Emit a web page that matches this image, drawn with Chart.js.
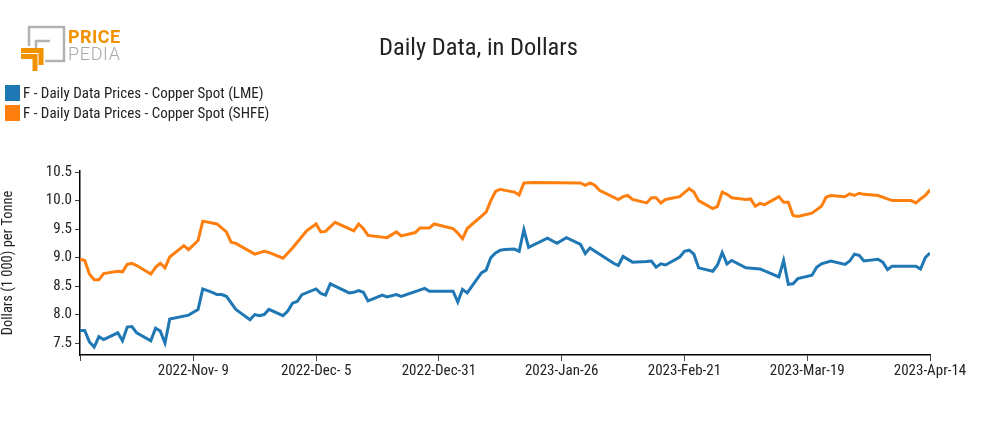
<!DOCTYPE html>
<html>
<head>
<meta charset="utf-8">
<script src="https://cdn.jsdelivr.net/npm/chart.js@4"></script>
<style>
  body { margin: 0; background: #fff; }
  #wrap { position: relative; width: 985px; height: 430px; font-family: 'Roboto Condensed', 'Liberation Sans Narrow', 'DejaVu Sans Condensed', Roboto, sans-serif; color: #222; }
  #chart { position: absolute; left: 0; top: 0; }
  #title { position: absolute; left: 0; width: 957px; top: 32px; text-align: center; font-size: 24.5px; }
  .leg { position: absolute; left: 5px; font-size: 15px; white-space: nowrap; }
  .leg span { display: inline-block; width: 15px; height: 16px; vertical-align: -3px; margin-right: 3px; }
  #logo { position: absolute; left: 0; top: 0; }
</style>
</head>
<body>
<div id="wrap">
  <canvas id="chart" width="985" height="430"></canvas>
  <svg id="logo" width="140" height="80">
    <polyline points="29,46 29,27 64,27 64,61 45,61" fill="none" stroke="#b3b3b3" stroke-width="2.5"/>
    <polyline points="36,50 36,41 50,41" fill="none" stroke="#b3b3b3" stroke-width="2.5"/>
    <polyline points="21,50.5 41,50.5 41,65" fill="none" stroke="#f39200" stroke-width="5"/>
    <polyline points="21,56.5 35,56.5 35,71" fill="none" stroke="#f39200" stroke-width="5"/>
    <text x="68" y="43" font-family="Roboto, sans-serif" font-weight="bold" font-size="18" fill="#f39200" textLength="52">PRICE</text>
    <text x="68" y="60" font-family="Roboto, sans-serif" font-weight="300" font-size="18" fill="#a8a8a8" textLength="52">PEDIA</text>
  </svg>
  <div id="title">Daily Data, in Dollars</div>
  <div class="leg" style="top:84px"><span style="background:#1f77b4"></span>F - Daily Data Prices - Copper Spot (LME)</div>
  <div class="leg" style="top:104px"><span style="background:#ff7f0e"></span>F - Daily Data Prices - Copper Spot (SHFE)</div>
</div>
<script>
// data
var startDate = '2022-10-16';
var tickDates = ['2022-11-09', '2022-12-05', '2022-12-31', '2023-01-26', '2023-02-21', '2023-03-19', '2023-04-14'];
var tickLabels = ['2022-Nov- 9', '2022-Dec- 5', '2022-Dec-31', '2023-Jan-26', '2023-Feb-21', '2023-Mar-19', '2023-Apr-14'];
var yTicks = [7.5, 8.0, 8.5, 9.0, 9.5, 10.0, 10.5];

var lmeDates = ['2022-10-16','2022-10-17','2022-10-18','2022-10-19','2022-10-20','2022-10-21','2022-10-24','2022-10-25','2022-10-26','2022-10-27','2022-10-28','2022-10-31',
  '2022-11-01','2022-11-02','2022-11-03','2022-11-04','2022-11-08','2022-11-09','2022-11-10','2022-11-11','2022-11-13','2022-11-14','2022-11-15','2022-11-16','2022-11-18','2022-11-19','2022-11-21','2022-11-22','2022-11-23','2022-11-24','2022-11-25','2022-11-28','2022-11-29','2022-11-30',
  '2022-12-01','2022-12-02','2022-12-05','2022-12-06','2022-12-07','2022-12-08','2022-12-12','2022-12-13','2022-12-14','2022-12-15','2022-12-16','2022-12-19','2022-12-20','2022-12-22','2022-12-23','2022-12-28','2022-12-29',
  '2023-01-03','2023-01-04','2023-01-05','2023-01-06','2023-01-09','2023-01-10','2023-01-11','2023-01-12','2023-01-13','2023-01-14','2023-01-16','2023-01-17','2023-01-18','2023-01-19','2023-01-23','2023-01-25','2023-01-27','2023-01-30','2023-01-31',
  '2023-02-01','2023-02-06','2023-02-07','2023-02-08','2023-02-10','2023-02-13','2023-02-14','2023-02-15','2023-02-16','2023-02-17','2023-02-20','2023-02-21','2023-02-22','2023-02-23','2023-02-24','2023-02-27','2023-02-28',
  '2023-03-01','2023-03-02','2023-03-03','2023-03-06','2023-03-09','2023-03-13','2023-03-14','2023-03-15','2023-03-16','2023-03-17','2023-03-20','2023-03-21','2023-03-22','2023-03-24','2023-03-27','2023-03-28','2023-03-29','2023-03-30','2023-03-31',
  '2023-04-03','2023-04-04','2023-04-05','2023-04-06','2023-04-11','2023-04-12','2023-04-13','2023-04-14'];
var lmeValues = [7.72,7.72,7.52,7.43,7.61,7.56,7.68,7.54,7.78,7.79,7.68,7.54,
  7.76,7.71,7.50,7.92,7.99,8.04,8.09,8.45,8.39,8.35,8.35,8.32,8.09,8.03,7.91,8.00,7.98,8.00,8.09,7.98,8.06,8.20,
  8.23,8.35,8.45,8.37,8.34,8.54,8.38,8.39,8.42,8.39,8.24,8.34,8.31,8.35,8.32,8.46,8.41,
  8.41,8.22,8.44,8.38,8.73,8.78,9.00,9.08,9.13,9.14,9.15,9.11,9.49,9.18,9.34,9.25,9.35,9.23,9.07,
  9.17,8.90,8.86,9.02,8.92,8.93,8.94,8.83,8.89,8.87,9.01,9.11,9.13,9.06,8.82,8.76,8.87,
  9.09,8.89,8.95,8.82,8.80,8.66,8.95,8.53,8.54,8.63,8.69,8.83,8.89,8.94,8.88,8.94,9.06,9.04,8.94,
  8.97,8.92,8.79,8.85,8.85,8.80,9.00,9.08];

var shfeDates = ['2022-10-16','2022-10-17','2022-10-18','2022-10-19','2022-10-20','2022-10-21','2022-10-24','2022-10-25','2022-10-26','2022-10-27','2022-10-28','2022-10-31',
  '2022-11-01','2022-11-02','2022-11-03','2022-11-04','2022-11-07','2022-11-08','2022-11-10','2022-11-11','2022-11-14','2022-11-15','2022-11-16','2022-11-17','2022-11-18','2022-11-22','2022-11-24','2022-11-25','2022-11-28','2022-11-30',
  '2022-12-02','2022-12-03','2022-12-05','2022-12-06','2022-12-07','2022-12-08','2022-12-09','2022-12-13','2022-12-14','2022-12-15','2022-12-16','2022-12-20','2022-12-22','2022-12-23','2022-12-26','2022-12-27','2022-12-29','2022-12-30',
  '2023-01-03','2023-01-04','2023-01-05','2023-01-06','2023-01-10','2023-01-11','2023-01-12','2023-01-13','2023-01-14','2023-01-16','2023-01-17','2023-01-18','2023-01-20','2023-01-30','2023-01-31',
  '2023-02-01','2023-02-02','2023-02-03','2023-02-07','2023-02-08','2023-02-09','2023-02-10','2023-02-13','2023-02-14','2023-02-15','2023-02-16','2023-02-17','2023-02-20','2023-02-22','2023-02-23','2023-02-24','2023-02-27','2023-02-28',
  '2023-03-01','2023-03-02','2023-03-03','2023-03-06','2023-03-07','2023-03-08','2023-03-09','2023-03-10','2023-03-13','2023-03-14','2023-03-15','2023-03-16','2023-03-17','2023-03-20','2023-03-22','2023-03-23','2023-03-24','2023-03-27','2023-03-28','2023-03-29','2023-03-30','2023-03-31',
  '2023-04-03','2023-04-06','2023-04-10','2023-04-11','2023-04-12','2023-04-13','2023-04-14'];
var shfeValues = [8.97,8.95,8.71,8.61,8.61,8.72,8.76,8.75,8.88,8.90,8.86,8.71,
  8.83,8.90,8.82,9.01,9.21,9.14,9.30,9.64,9.59,9.52,9.45,9.27,9.25,9.06,9.11,9.09,8.99,9.17,
  9.37,9.47,9.59,9.45,9.46,9.54,9.62,9.47,9.59,9.51,9.39,9.35,9.45,9.38,9.44,9.52,9.52,9.59,
  9.51,9.43,9.33,9.51,9.80,10.00,10.16,10.20,10.18,10.15,10.10,10.31,10.32,10.31,10.27,
  10.31,10.27,10.18,10.02,10.07,10.09,10.02,9.96,10.05,10.05,9.96,10.02,10.07,10.21,10.15,10.00,9.86,9.90,
  10.15,10.11,10.05,10.02,10.03,9.90,9.95,9.93,10.07,9.97,9.97,9.74,9.72,9.78,9.90,10.06,10.09,10.07,10.12,10.09,10.13,10.11,
  10.09,10.00,10.00,9.96,10.03,10.09,10.19];

var DAY = 86400000;
function dayOf(s) {
  return Math.round((Date.parse(s) - Date.parse(startDate)) / DAY);
}
function toPoints(dates, values) {
  return dates.map(function(d, i) { return { x: dayOf(d), y: values[i] }; });
}

var tickDays = tickDates.map(dayOf);
var font = { family: "'Roboto Condensed', 'Liberation Sans Narrow', 'DejaVu Sans Condensed', Roboto, sans-serif", size: 15 };

var copperChart = new Chart(document.getElementById('chart'), {
  type: 'line',
  data: {
    datasets: [{
      label: 'F - Daily Data Prices - Copper Spot (LME)',
      data: toPoints(lmeDates, lmeValues),
      borderColor: '#1f77b4',
      backgroundColor: '#1f77b4',
      borderWidth: 3,
      pointRadius: 0,
      tension: 0,
      fill: false
    }, {
      label: 'F - Daily Data Prices - Copper Spot (SHFE)',
      data: toPoints(shfeDates, shfeValues),
      borderColor: '#ff7f0e',
      backgroundColor: '#ff7f0e',
      borderWidth: 3,
      pointRadius: 0,
      tension: 0,
      fill: false
    }]
  },
  options: {
    responsive: false,
    animation: false,
    events: [],
    layout: { padding: { left: 0, top: 171, right: 55, bottom: 0 } },
    plugins: { legend: { display: false }, title: { display: false }, tooltip: { enabled: false } },
    scales: {
      x: {
        type: 'linear',
        min: 0,
        max: dayOf('2023-04-14'),
        afterBuildTicks: function(scale) {
          scale.ticks = [{ value: 0 }].concat(tickDays.map(function(d) { return { value: d }; }));
        },
        afterFit: function(scale) { scale.height = 75; },
        ticks: {
          autoSkip: false,
          maxRotation: 0,
          color: '#222',
          font: font,
          padding: 1,
          callback: function(v) {
            var i = tickDays.indexOf(v);
            return i < 0 ? '' : tickLabels[i];
          }
        },
        grid: { drawOnChartArea: false, drawTicks: true, tickLength: 6, color: '#444' },
        border: { display: true, color: '#000', width: 1.5 }
      },
      y: {
        min: 7.29,
        max: 10.52,
        afterBuildTicks: function(scale) {
          scale.ticks = yTicks.map(function(v) { return { value: v }; });
        },
        afterFit: function(scale) { scale.width = 80; },
        ticks: {
          color: '#222',
          font: font,
          padding: 3,
          callback: function(v) { return v.toFixed(1); }
        },
        title: {
          display: true,
          text: 'Dollars (1 000) per Tonne',
          color: '#222',
          font: { family: font.family, size: 14.5 },
          padding: 0
        },
        grid: { drawOnChartArea: false, drawTicks: true, tickLength: 5, color: '#444' },
        border: { display: true, color: '#000', width: 1.5 }
      }
    }
  }
});
</script>
</body>
</html>
